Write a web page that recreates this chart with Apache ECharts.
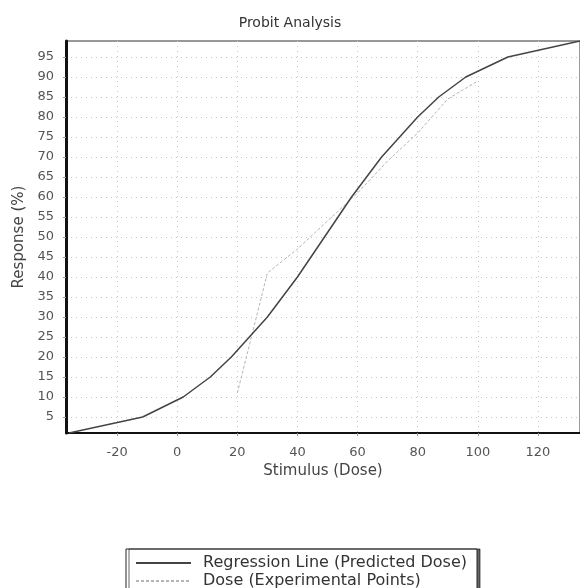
<!DOCTYPE html>
<html lang="en">
<head>
  <meta charset="UTF-8">
  <title>Probit Analysis</title>
  <style>
    html, body { margin: 0; padding: 0; background: #fff; }
    #main { width: 580px; height: 588px; }
  </style>
</head>
<body>
<div id="main"></div>
<script src="https://cdn.jsdelivr.net/npm/echarts@6/dist/echarts.min.js"></script>
<script>
  // regression line (predicted dose)
  var regDose = [-36, -11.5, 2, 11, 18, 24, 30, 35, 40, 44.5, 49, 53.5, 58, 63, 68, 74, 80, 87, 96, 110, 134];
  var regResp = [1, 5, 10, 15, 20, 25, 30, 35, 40, 45, 50, 55, 60, 65, 70, 75, 80, 85, 90, 95, 99];

  // experimental points
  var expDose = [20, 30, 40, 50, 60, 70, 80, 90, 100];
  var expResp = [11, 41, 47, 54, 61, 69, 76, 84.5, 89];

  var xTicks = [-20, 0, 20, 40, 60, 80, 100, 120];
  var yTicks = [5, 10, 15, 20, 25, 30, 35, 40, 45, 50, 55, 60, 65, 70, 75, 80, 85, 90, 95];

  var zip = function (a, b) {
    return a.map(function (v, i) { return [v, b[i]]; });
  };

  var font = 'DejaVu Sans';
  var chart = echarts.init(document.getElementById('main'));

  chart.setOption({
    backgroundColor: '#fff',
    animation: false,
    title: {
      text: 'Probit Analysis',
      left: 'center',
      top: 11,
      textStyle: { fontFamily: font, fontSize: 14, fontWeight: 'normal', color: '#333' }
    },
    legend: {
      orient: 'vertical',
      left: 126,
      top: 549,
      height: 100,
      padding: [6, 10, 5, 9],
      itemGap: 2,
      itemWidth: 55,
      itemHeight: 14,
      borderColor: '#222',
      borderWidth: 1,
      backgroundColor: '#fff',
      shadowColor: 'rgba(0,0,0,0.6)',
      shadowOffsetX: 3,
      shadowOffsetY: 0,
      shadowBlur: 0,
      itemStyle: { opacity: 0 },
      textStyle: { fontFamily: font, fontSize: 16, color: '#333', padding: [0, 0, 0, 7] },
      data: ['Regression Line (Predicted Dose)', 'Dose (Experimental Points)']
    },
    grid: {
      left: 66,
      right: -3,
      top: 41,
      bottom: 155,
      show: true,
      borderColor: '#333',
      borderWidth: 1
    },
    xAxis: {
      type: 'value',
      min: -37,
      max: 134,
      name: 'Stimulus (Dose)',
      nameLocation: 'middle',
      nameGap: 31,
      nameTextStyle: { fontFamily: font, fontSize: 15, color: '#444' },
      axisLine: { show: true, onZero: false, lineStyle: { color: '#111', width: 2 } },
      axisTick: { show: true, customValues: xTicks, length: 3, lineStyle: { color: '#999' } },
      axisLabel: { customValues: xTicks, fontFamily: font, fontSize: 13, color: '#555', margin: 13 },
      splitLine: { show: true, lineStyle: { color: '#c4c4c4', type: [1, 4], width: 1 } }
    },
    yAxis: {
      type: 'value',
      min: 1,
      max: 99,
      name: 'Response (%)',
      nameLocation: 'middle',
      nameGap: 37,
      nameTextStyle: { fontFamily: font, fontSize: 15, color: '#444' },
      axisLine: { show: true, onZero: false, lineStyle: { color: '#111', width: 3 } },
      axisTick: { show: true, customValues: yTicks, length: 3, lineStyle: { color: '#999' } },
      axisLabel: { customValues: yTicks, fontFamily: font, fontSize: 13, color: '#555', margin: 12 },
      splitLine: { show: true, lineStyle: { color: '#c4c4c4', type: [1, 4], width: 1 } }
    },
    series: [
      {
        name: 'Regression Line (Predicted Dose)',
        type: 'line',
        symbol: 'none',
        z: 3,
        lineStyle: { color: '#444', width: 1.5 },
        itemStyle: { color: '#444' },
        data: zip(regDose, regResp)
      },
      {
        name: 'Dose (Experimental Points)',
        type: 'line',
        symbol: 'none',
        z: 2,
        lineStyle: { color: '#b4b4b4', width: 1, type: [3, 2] },
        itemStyle: { color: '#b4b4b4' },
        data: zip(expDose, expResp)
      }
    ]
  });
</script>
</body>
</html>
